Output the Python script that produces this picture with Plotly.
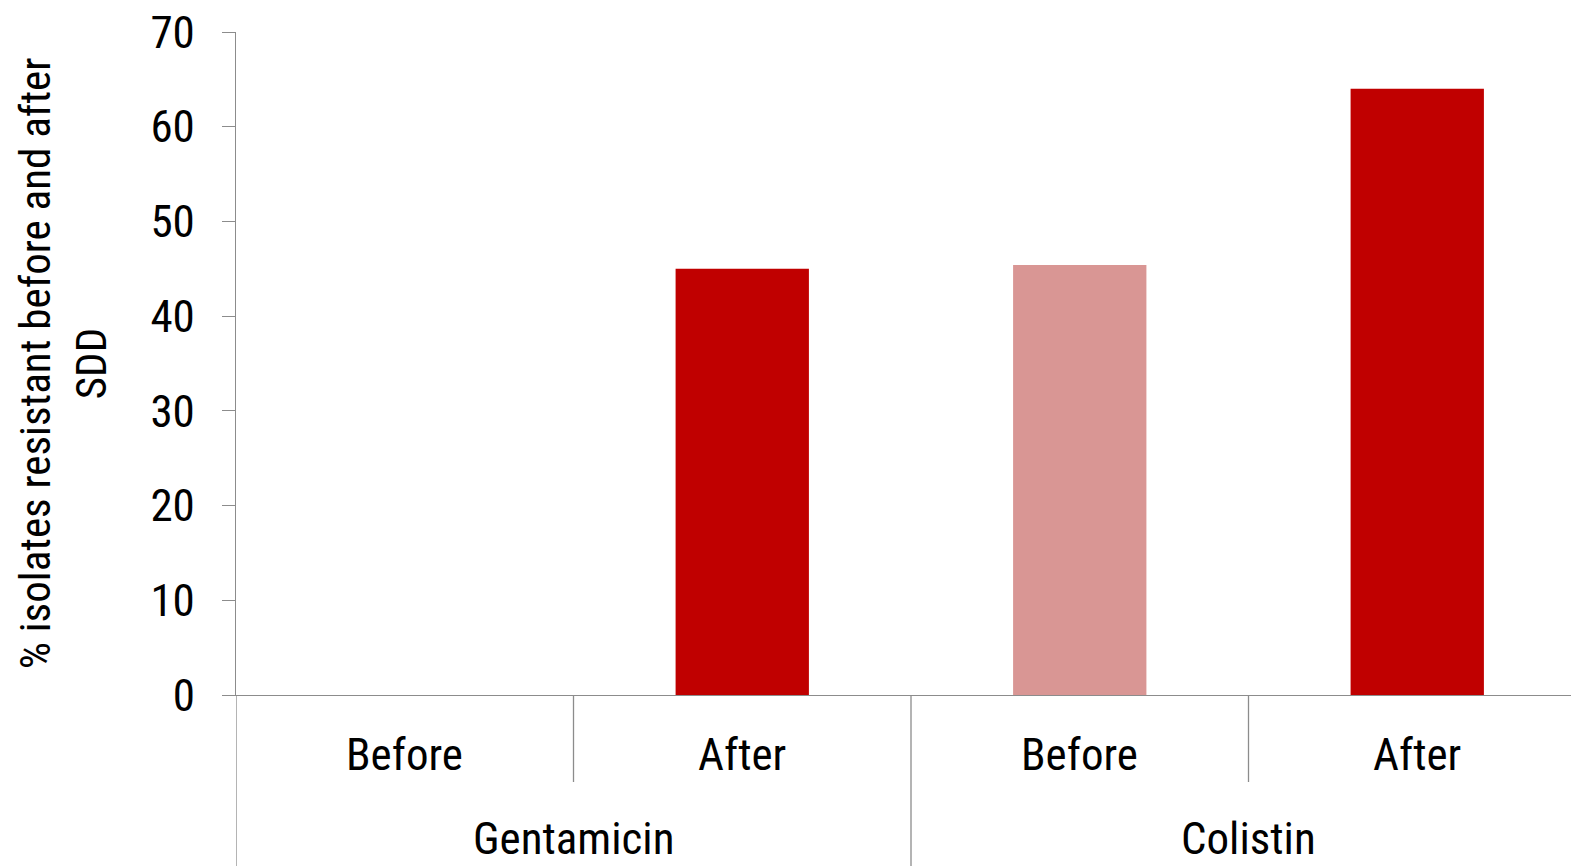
import plotly.graph_objects as go

# Resistance (%) of isolates before and after SDD, per antibiotic
antibiotics = ["Gentamicin", "Colistin"]
timepoints = ["Before", "After"]
gentamicin_pct = [0, 45]
colistin_pct = [45.4, 64]
values_by_antibiotic = [gentamicin_pct, colistin_pct]
y_ticks = [0, 10, 20, 30, 40, 50, 60, 70]

colors = {"Before": "#D99694", "After": "#C00000"}
axis_grey = "#8C8C8C"
font_family = "Liberation Sans Narrow, Arial Narrow, Roboto Condensed, sans-serif"
font_weight = 400

n_sub = len(timepoints)
xs, ys, cols, labels = [], [], [], []
for gi, vals in enumerate(values_by_antibiotic):
    for ti, v in enumerate(vals):
        xs.append(gi * n_sub + ti)
        ys.append(v)
        cols.append(colors[timepoints[ti]])
        labels.append(timepoints[ti])

fig = go.Figure()
fig.add_trace(go.Bar(
    x=xs, y=ys, width=0.395,
    marker=dict(color=cols, line=dict(width=0)),
    hovertext=labels, showlegend=False,
))

# geometry of the plotting area (pixels)
W, H = 1571, 866
ml, mt, mb = 236, 32, 171
plot_h = H - mt - mb

def paper_y(px_below_axis):
    return -px_below_axis / plot_h

def txt_font(size):
    return dict(family=font_family, size=size, color="black", weight=font_weight)

shapes = []
annotations = []
n_slots = len(xs)
# dividers: short between sub-categories, long between antibiotic groups
for b in range(n_slots + 1):
    xb = b - 0.5
    long = (b % n_sub == 0)
    shapes.append(dict(
        type="line", xref="x", yref="paper",
        x0=xb, x1=xb, y0=0, y1=paper_y(171 if long else 87),
        line=dict(color=axis_grey, width=1.3),
    ))

for x, lab in zip(xs, labels):
    annotations.append(dict(
        x=x, y=paper_y(60), xref="x", yref="paper", text=lab,
        showarrow=False, yanchor="middle", font=txt_font(45),
    ))
for gi, name in enumerate(antibiotics):
    annotations.append(dict(
        x=gi * n_sub + (n_sub - 1) / 2, y=paper_y(143), xref="x", yref="paper",
        text=name, showarrow=False, yanchor="middle", font=txt_font(45),
    ))

x_right = -0.5 + (W - ml) / 337.5

fig.update_layout(
    width=W, height=H,
    margin=dict(l=ml, r=0, t=mt, b=mb, pad=0),
    paper_bgcolor="white", plot_bgcolor="white",
    font=txt_font(45),
    shapes=shapes, annotations=annotations,
    xaxis=dict(
        range=[-0.5, x_right], showgrid=False, zeroline=False,
        showline=True, linecolor=axis_grey, linewidth=1.3,
        showticklabels=False, ticks="",
    ),
    yaxis=dict(
        range=[0, 70], tickvals=y_ticks, showgrid=False, zeroline=False,
        showline=True, linecolor=axis_grey, linewidth=1.3,
        ticks="outside", ticklen=13, tickcolor=axis_grey, tickwidth=1.3,
        ticklabelstandoff=18,
        tickfont=txt_font(45),
        title=dict(
            text="% isolates resistant before and after<br>SDD",
            font=txt_font(43),
            standoff=30,
        ),
    ),
)

fig.write_html("out.html")
